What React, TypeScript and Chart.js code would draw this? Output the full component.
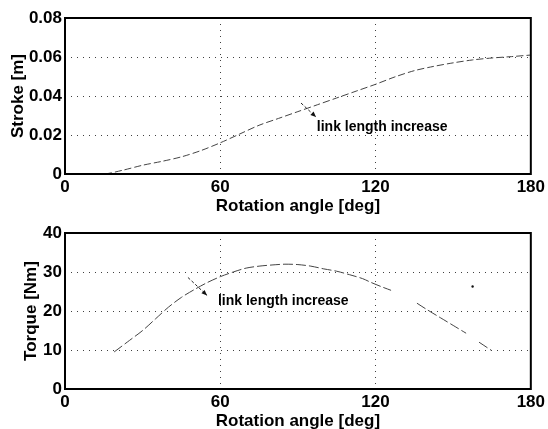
import React, { useEffect, useRef } from "react";
import { Chart, registerables } from "chart.js";

Chart.register(...registerables);

const angleTicks = [0, 60, 120, 180];

const strokeAngles = [0, 15, 22.5, 30, 37.5, 45, 52.5, 60, 67.5, 75, 82.5, 90, 97.5, 105, 112.5, 120, 127.5, 135, 142.5, 150, 157.5, 165, 172.5, 180];
const strokeValues = [0, 0, 0.002, 0.0045, 0.0065, 0.0088, 0.012, 0.016, 0.0205, 0.025, 0.0285, 0.032, 0.0355, 0.039, 0.0425, 0.046, 0.0498, 0.053, 0.0552, 0.057, 0.0585, 0.0595, 0.0602, 0.061];

const torqueAngles = [19, 25, 30, 35, 40, 45, 50, 55, 60, 65, 70, 75, 80, 85, 90, 95, 100, 105, 110, 115, 118, 122, 126, 130, 136, 140, 145, 150, 155, 157, 160, 165];
const torqueValues = [9.5, 12.5, 15, 18, 21, 23.5, 25.5, 27.3, 28.8, 30, 31, 31.5, 31.8, 32, 31.9, 31.5, 30.8, 30.2, 29.3, 28.3, 27.4, 26.3, 25.3, null, 22, 20.3, 18.3, 16.3, 14.3, null, 12, 9.8];

const strayAngles = [157.5];
const strayValues = [26.3];

const strokeTicks = [0, 0.02, 0.04, 0.06, 0.08];
const torqueTicks = [0, 10, 20, 30, 40];

// annotation anchors in data units: [arrowFromX, arrowFromY, arrowToX, arrowToY, textX, textY]
const strokeNote = [91.2, 0.0364, 97, 0.0292, 97.3, 0.0240];
const torqueNote = [47.5, 28.6, 54.9, 24, 59.1, 22.5];
const noteText = "link length increase";

const FONT = "'Liberation Sans', Arial, Helvetica, sans-serif";

function makePoints(xs: number[], ys: (number | null)[]) {
  return xs.map((x, i) => ({ x, y: ys[i] }));
}

function boxAndNotePlugin(note: number[]) {
  return {
    id: "boxnote",
    afterDraw(chart: any) {
      const { ctx, chartArea, scales } = chart;
      ctx.save();
      ctx.strokeStyle = "#000";
      ctx.lineWidth = 2;
      ctx.strokeRect(chartArea.left, chartArea.top, chartArea.right - chartArea.left, chartArea.bottom - chartArea.top);
      const x = scales.x, y = scales.y;
      const x1 = x.getPixelForValue(note[0]), y1 = y.getPixelForValue(note[1]);
      const x2 = x.getPixelForValue(note[2]), y2 = y.getPixelForValue(note[3]);
      ctx.lineWidth = 1;
      ctx.strokeStyle = "#222";
      ctx.setLineDash([3, 2]);
      ctx.beginPath();
      ctx.moveTo(x1, y1);
      ctx.lineTo(x2, y2);
      ctx.stroke();
      ctx.setLineDash([]);
      const ang = Math.atan2(y2 - y1, x2 - x1);
      ctx.fillStyle = "#111";
      ctx.beginPath();
      ctx.moveTo(x2, y2);
      ctx.lineTo(x2 - 6 * Math.cos(ang - 0.4), y2 - 6 * Math.sin(ang - 0.4));
      ctx.lineTo(x2 - 6 * Math.cos(ang + 0.4), y2 - 6 * Math.sin(ang + 0.4));
      ctx.closePath();
      ctx.fill();
      ctx.font = `bold 14px ${FONT}`;
      ctx.textAlign = "left";
      ctx.textBaseline = "middle";
      ctx.fillStyle = "#000";
      ctx.fillText(noteText, x.getPixelForValue(note[4]), y.getPixelForValue(note[5]));
      ctx.restore();
    },
  };
}

function buildConfig(opts: {
  datasets: any[];
  yTicks: number[];
  yTitle: string;
  yTitlePad: number;
  yFormat: (v: number) => string;
  note: number[];
}) {
  const gridStyle = {
    color: "rgba(0,0,0,0.75)",
    lineWidth: 1,
    drawTicks: false,
  };
  const font = { family: FONT, size: 17, weight: "bold" as const };
  return {
    type: "line" as const,
    data: { datasets: opts.datasets },
    plugins: [boxAndNotePlugin(opts.note)],
    options: {
      animation: false as const,
      responsive: false,
      maintainAspectRatio: false,
      layout: { padding: { left: 0, right: 17, top: 18, bottom: 0 } },
      plugins: { legend: { display: false }, tooltip: { enabled: false } },
      scales: {
        x: {
          type: "linear" as const,
          min: angleTicks[0],
          max: angleTicks[angleTicks.length - 1],
          afterBuildTicks: (s: any) => {
            s.ticks = angleTicks.map((v) => ({ value: v }));
          },
          afterFit: (s: any) => {
            s.height = 40;
          },
          border: { display: false, dash: [1, 5] },
          grid: gridStyle,
          ticks: {
            color: "#000",
            padding: 3,
            maxRotation: 0,
            font,
            callback: (v: any) => String(v),
          },
          title: {
            display: true,
            text: "Rotation angle [deg]",
            color: "#000",
            padding: { top: 0, bottom: -3 },
            font,
          },
        },
        y: {
          min: opts.yTicks[0],
          max: opts.yTicks[opts.yTicks.length - 1],
          afterBuildTicks: (s: any) => {
            s.ticks = opts.yTicks.map((v) => ({ value: v }));
          },
          afterFit: (s: any) => {
            s.width = 65;
          },
          border: { display: false, dash: [1, 5] },
          grid: gridStyle,
          ticks: {
            color: "#000",
            padding: 3,
            font,
            callback: (v: any) => opts.yFormat(Number(v)),
          },
          title: {
            display: true,
            text: opts.yTitle,
            color: "#000",
            padding: { top: opts.yTitlePad, bottom: 0 },
            font,
          },
        },
      },
    },
  };
}

function ChartCanvas({ config, top }: { config: any; top: number }) {
  const ref = useRef<HTMLCanvasElement | null>(null);
  useEffect(() => {
    if (!ref.current) return;
    const chart = new Chart(ref.current, config);
    return () => chart.destroy();
  }, [config]);
  return (
    <canvas
      ref={ref}
      width={548}
      height={214}
      style={{ position: "absolute", left: 0, top, width: 548, height: 214 }}
    />
  );
}

const strokeConfig = buildConfig({
  datasets: [
    {
      data: makePoints(strokeAngles, strokeValues),
      borderColor: "#444",
      borderWidth: 1,
      borderDash: [7, 3],
      pointRadius: 0,
      tension: 0.3,
      fill: false,
    },
  ],
  yTicks: strokeTicks,
  yTitle: "Stroke [m]",
  yTitlePad: 8,
  yFormat: (v) => (v === 0 ? "0" : v.toFixed(2)),
  note: strokeNote,
});

const torqueConfig = buildConfig({
  datasets: [
    {
      data: makePoints(torqueAngles, torqueValues),
      borderColor: "#444",
      borderWidth: 1,
      borderDash: [10, 3],
      pointRadius: 0,
      tension: 0.3,
      spanGaps: false,
      fill: false,
    },
    {
      data: makePoints(strayAngles, strayValues),
      showLine: false,
      pointRadius: 1.2,
      pointBackgroundColor: "#111",
      pointBorderWidth: 0,
    },
  ],
  yTicks: torqueTicks,
  yTitle: "Torque [Nm]",
  yTitlePad: 21,
  yFormat: (v) => String(v),
  note: torqueNote,
});

export default function App() {
  return (
    <div style={{ position: "absolute", left: 0, top: 0, width: 548, height: 429, background: "#fff" }}>
      <ChartCanvas config={strokeConfig} top={0} />
      <ChartCanvas config={torqueConfig} top={215} />
    </div>
  );
}
